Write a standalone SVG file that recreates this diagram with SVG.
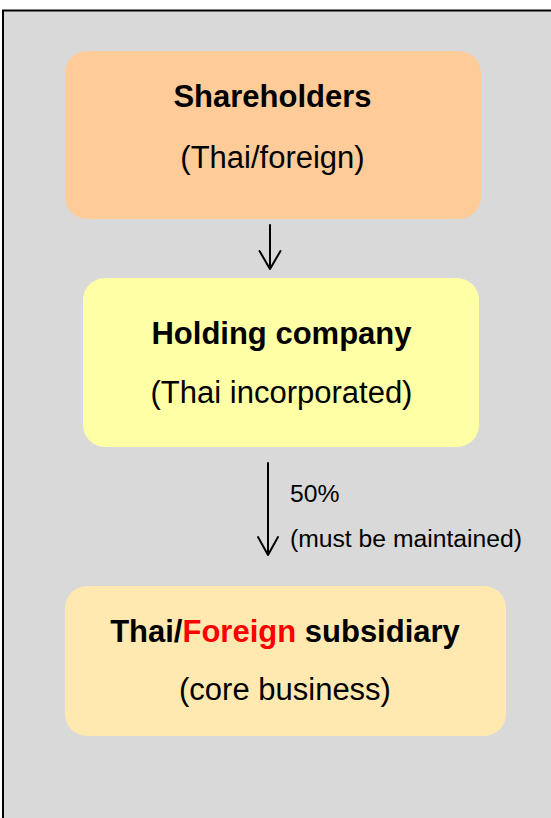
<svg xmlns="http://www.w3.org/2000/svg" width="551" height="818" viewBox="0 0 551 818">
<style>
text{font-family:"Liberation Sans",Arial,sans-serif;fill:#000}
.t{font-size:31px;font-weight:bold;text-anchor:middle}
.s{font-size:31px;text-anchor:middle}
.l{font-size:24.7px}
.c{stroke:#000;stroke-width:2;fill:none;stroke-linecap:round;stroke-linejoin:round}
</style>
<rect width="551" height="818" fill="#FFFFFF"/>
<rect x="3" y="10.5" width="620" height="900" fill="#D9D9D9" stroke="#000" stroke-width="2"/>
<g id="shareholders">
<rect x="65" y="51" width="416" height="168" rx="22" fill="#FFCB99"/>
<text class="t" x="272.5" y="106.5">Shareholders</text>
<text class="s" x="272.5" y="167.5">(Thai/foreign)</text>
</g>
<g id="holding">
<rect x="83" y="278" width="396" height="169" rx="22" fill="#FFFFA6"/>
<text class="t" x="281.5" y="344">Holding company</text>
<text class="s" x="281.5" y="403">(Thai incorporated)</text>
</g>
<g id="subsidiary">
<rect x="65" y="586" width="441" height="150" rx="22" fill="#FFE9B0"/>
<text class="t" x="285" y="641.5">Thai/<tspan fill="#FF0000" style="fill:#FF0000">Foreign</tspan> subsidiary</text>
<text class="s" x="285" y="700">(core business)</text>
</g>
<g id="connectors">
<path class="c" d="M270 225 V269 M259.5 251 L270 269 L280.5 251"/>
<path class="c" d="M268 463 V555 M258 537 L268 555 L278 537"/>
<text class="l" x="290" y="502">50%</text>
<text class="l" x="290" y="547">(must be maintained)</text>
</g>
</svg>
